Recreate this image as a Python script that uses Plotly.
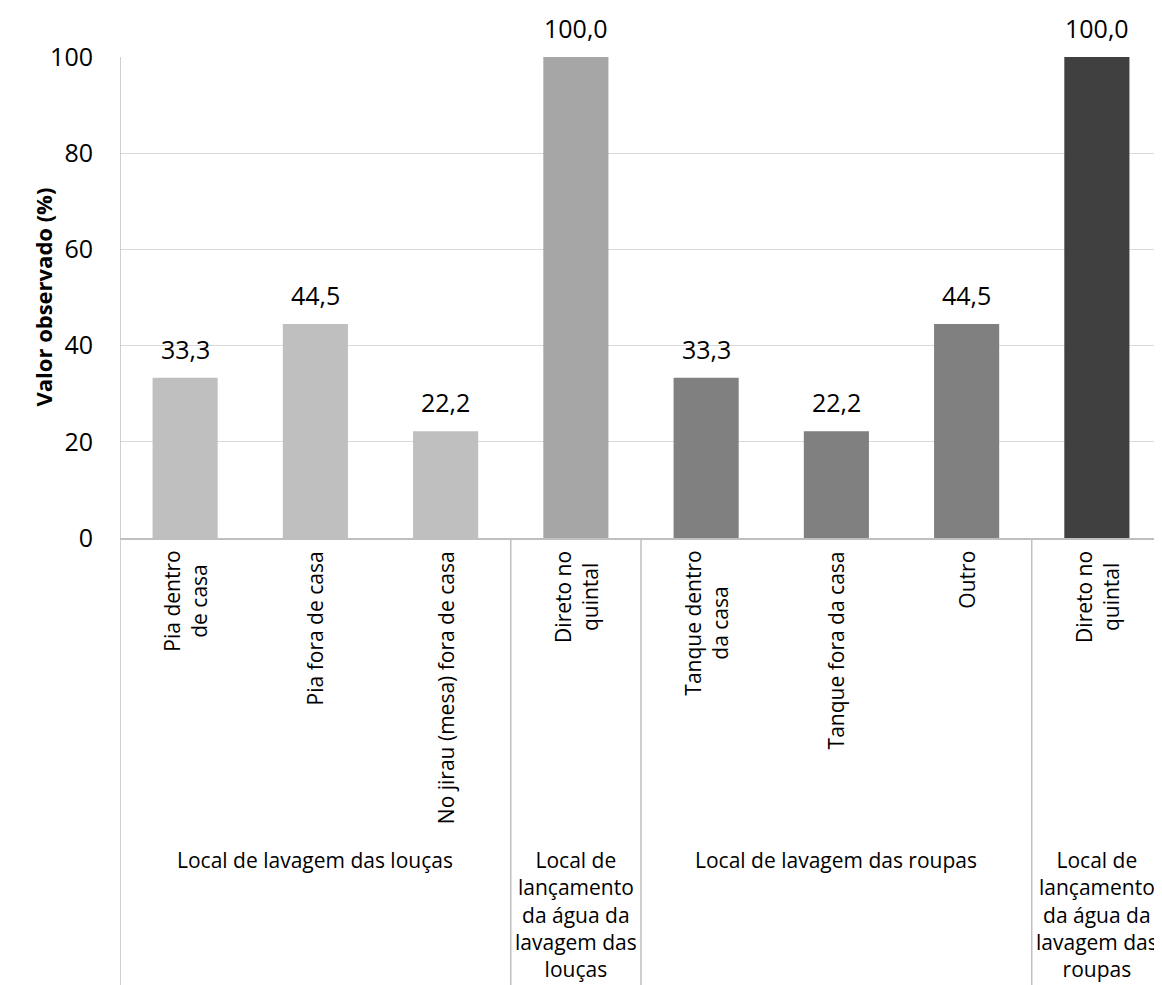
import plotly.graph_objects as go

categories = ["Pia dentro<br>de casa", "Pia fora de casa", "No jirau (mesa) fora de casa",
              "Direto no<br>quintal", "Tanque dentro<br>da casa", "Tanque fora da casa",
              "Outro", "Direto no<br>quintal"]
values = [33.3, 44.5, 22.2, 100.0, 33.3, 22.2, 44.5, 100.0]
groups = ["Local de lavagem das louças",
          "Local de<br>lançamento<br>da água da<br>lavagem das<br>louças",
          "Local de lavagem das roupas",
          "Local de<br>lançamento<br>da água da<br>lavagem das<br>roupas"]
group_members = [[0, 1, 2], [3], [4, 5, 6], [7]]

bar_colors = ["#BFBFBF", "#BFBFBF", "#BFBFBF", "#A6A6A6", "#808080", "#808080", "#808080", "#404040"]
FONT = "Open Sans"
OFF = 8  # page body margin
W, H = 1162 - OFF, 985 - OFF
L, R, T, B = 120 - OFF, 0, 57 - OFF, 447
plot_h = H - T - B
plot_w = W - L - R

xs = list(range(len(categories)))
fig = go.Figure(go.Bar(x=xs, y=values, width=0.5, marker=dict(color=bar_colors, line=dict(width=0)),
                       hoverinfo="skip"))

ann = []
# data labels
for x, v in zip(xs, values):
    ann.append(dict(x=x, y=v, xref="x", yref="y", text=f"{v:.1f}".replace(".", ","),
                    showarrow=False, yanchor="middle", yshift=29,
                    font=dict(family=FONT, size=25, color="black")))
# rotated category labels
for x, c in zip(xs, categories):
    ann.append(dict(x=x, y=0, xref="x", yref="paper", text=c, textangle=-90, showarrow=False,
                    xanchor="center", yanchor="top", yshift=-11, align="center",
                    font=dict(family=FONT, size=21, color="black")))
# group labels
for g, mem in zip(groups, group_members):
    ann.append(dict(x=sum(mem) / len(mem), y=0, xref="x", yref="paper", text=g, showarrow=False,
                    xanchor="center", yanchor="top", yshift=-306, align="center",
                    font=dict(family=FONT, size=21, color="black")))
# y title
ann.append(dict(x=(42 - OFF - L) / plot_w, y=0.5, xref="paper", yref="paper",
                text="<b>Valor observado (%)</b>", textangle=-90, showarrow=False,
                xanchor="center", yanchor="middle", font=dict(family=FONT, size=22, color="black")))

ybot = -B / plot_h
shapes = [dict(type="line", xref="x", yref="paper", x0=-0.5, x1=-0.5, y0=1, y1=ybot,
               line=dict(color="#BFBFBF", width=1.5))]
for sx in [2.5, 3.5, 6.5]:
    shapes.append(dict(type="line", xref="x", yref="paper", x0=sx, x1=sx, y0=0, y1=ybot,
                       line=dict(color="#BFBFBF", width=1.5)))

fig.update_layout(
    width=W, height=H, margin=dict(l=L, r=R, t=T, b=B),
    paper_bgcolor="white", plot_bgcolor="white", showlegend=False,
    annotations=ann, shapes=shapes,
    xaxis=dict(range=[-0.5, 7.5], showticklabels=False, showgrid=False, zeroline=False,
               showline=True, linecolor="#BFBFBF", linewidth=1.5, ticks=""),
    yaxis=dict(range=[0, 100], dtick=20, showgrid=True, gridcolor="#D9D9D9", gridwidth=1,
               zeroline=False, showline=False, ticks="", ticklabelstandoff=26,
               tickfont=dict(family=FONT, size=25, color="black")),
)
fig.write_html("out.html")
